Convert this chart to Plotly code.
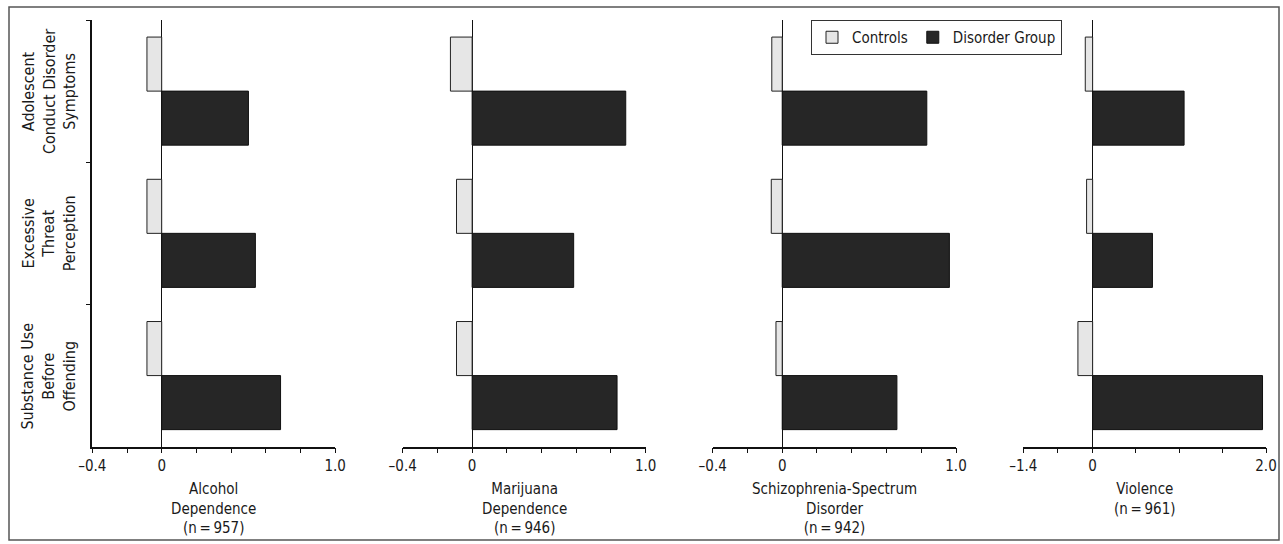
import plotly.graph_objects as go

W, H = 1283, 544

categories = ["Adolescent Conduct Disorder Symptoms",
              "Excessive Threat Perception",
              "Substance Use Before Offending"]
category_labels = ["Adolescent<br>Conduct Disorder<br>Symptoms",
                   "Excessive<br>Threat<br>Perception",
                   "Substance Use<br>Before<br>Offending"]

series_names = ["Controls", "Disorder Group"]

panel_titles = ["Alcohol<br>Dependence<br>(n\u2009=\u2009957)",
                "Marijuana<br>Dependence<br>(n\u2009=\u2009946)",
                "Schizophrenia-Spectrum<br>Disorder<br>(n\u2009=\u2009942)",
                "Violence<br>(n\u2009=\u2009961)"]

alcohol_controls = [-0.085, -0.085, -0.085]
alcohol_disorder = [0.50, 0.54, 0.685]
marijuana_controls = [-0.125, -0.09, -0.09]
marijuana_disorder = [0.885, 0.585, 0.835]
schizo_controls = [-0.06, -0.063, -0.036]
schizo_disorder = [0.832, 0.962, 0.66]
violence_controls = [-0.085, -0.07, -0.17]
violence_disorder = [1.055, 0.69, 1.96]

controls = [alcohol_controls, marijuana_controls, schizo_controls, violence_controls]
disorder = [alcohol_disorder, marijuana_disorder, schizo_disorder, violence_disorder]

x_ranges = [[-0.4, 1.0], [-0.4, 1.0], [-0.4, 1.0], [-0.8, 2.0]]
x_tickvals = [[-0.4, -0.2, 0, 0.2, 0.4, 0.6, 0.8, 1.0]] * 3 + [[-0.8, -0.4, 0, 0.5, 1.0, 1.5, 2.0]]
x_ticktext = [["\u20130.4", "", "0", "", "", "", "", "1.0"]] * 3 + [["\u20131.4", "", "0", "", "", "", "2.0"]]

FONT = "DejaVu Sans Condensed, Liberation Sans Narrow, Liberation Sans, Arial, sans-serif"
TXT = "#1a1a1a"
FS = 15

# pixel layout
x_px = [(92.3, 335.2), (402.7, 645.7), (712.7, 956.0), (1023.3, 1266.0)]
y_top, y_bot = 20.0, 446.7

fig = go.Figure()

for i in range(4):
    sfx = "" if i == 0 else str(i + 1)
    fig.add_trace(go.Bar(
        y=categories, x=controls[i], orientation="h", name=series_names[0],
        marker=dict(color="#e6e6e6", line=dict(color="#222222", width=1)),
        xaxis="x" + sfx, yaxis="y" + sfx, showlegend=(i == 0),
        legendgroup="c"))
    fig.add_trace(go.Bar(
        y=categories, x=disorder[i], orientation="h", name=series_names[1],
        marker=dict(color="#262626", line=dict(color="#111111", width=1)),
        xaxis="x" + sfx, yaxis="y" + sfx, showlegend=(i == 0),
        legendgroup="d"))

layout = dict(
    width=W, height=H, autosize=False,
    margin=dict(l=0, r=0, t=0, b=0, pad=0, autoexpand=False),
    paper_bgcolor="white", plot_bgcolor="white",
    barmode="group", bargap=0.24, bargroupgap=0,
    font=dict(family=FONT, size=FS, color=TXT),
    legend=dict(orientation="h", x=811 / W, y=1 - 20 / H, xanchor="left", yanchor="top",
                bgcolor="white", bordercolor="#333333", borderwidth=1,
                font=dict(family=FONT, size=FS, color=TXT),
                traceorder="normal", itemwidth=30),
    annotations=[], shapes=[],
)

for i in range(4):
    sfx = "" if i == 0 else str(i + 1)
    x0, x1 = x_px[i]
    layout["xaxis" + sfx] = dict(
        domain=[x0 / W, x1 / W], range=x_ranges[i], anchor="y" + sfx,
        showline=True, linecolor="#111111", linewidth=1.5,
        ticks="outside", ticklen=5, tickwidth=1.2, tickcolor="#111111",
        tickvals=x_tickvals[i], ticktext=x_ticktext[i],
        tickfont=dict(family=FONT, size=FS, color=TXT),
        showgrid=False, zeroline=True, zerolinecolor="#111111", zerolinewidth=1.2,
        automargin=False, fixedrange=True)
    layout["yaxis" + sfx] = dict(
        domain=[1 - y_bot / H, 1 - y_top / H], anchor="x" + sfx,
        type="category", categoryorder="array", categoryarray=categories,
        range=[2.5, -0.5],
        showline=(i == 0), linecolor="#111111", linewidth=1.5,
        ticks="outside" if i == 0 else "", tickson="boundaries", ticklen=5,
        tickwidth=1.2, tickcolor="#111111",
        showticklabels=False, showgrid=False, zeroline=False,
        automargin=False, fixedrange=True)
    layout["annotations"].append(dict(
        text=panel_titles[i], xref="x" + sfx + " domain", x=0.5,
        yref="paper", y=1 - 478 / H, xanchor="center", yanchor="top",
        showarrow=False, align="center",
        font=dict(family=FONT, size=FS, color=TXT)))

for j, lab in enumerate(category_labels):
    layout["annotations"].append(dict(
        text=lab, xref="paper", x=49 / W, yref="y", y=categories[j],
        xanchor="center", yanchor="middle", textangle=-90, showarrow=False,
        align="center", font=dict(family=FONT, size=FS + 1, color=TXT)))

layout["shapes"].append(dict(
    type="rect", xref="paper", yref="paper",
    x0=9 / W, x1=1279 / W, y0=1 - 540 / H, y1=1 - 7 / H,
    line=dict(color="#555555", width=1.5), fillcolor="rgba(0,0,0,0)", layer="below"))

fig.update_layout(**layout)
fig.write_html("out.html",
               config={"displayModeBar": False, "staticPlot": False},
               post_script="document.body.style.margin='0';document.body.style.overflow='hidden';")
